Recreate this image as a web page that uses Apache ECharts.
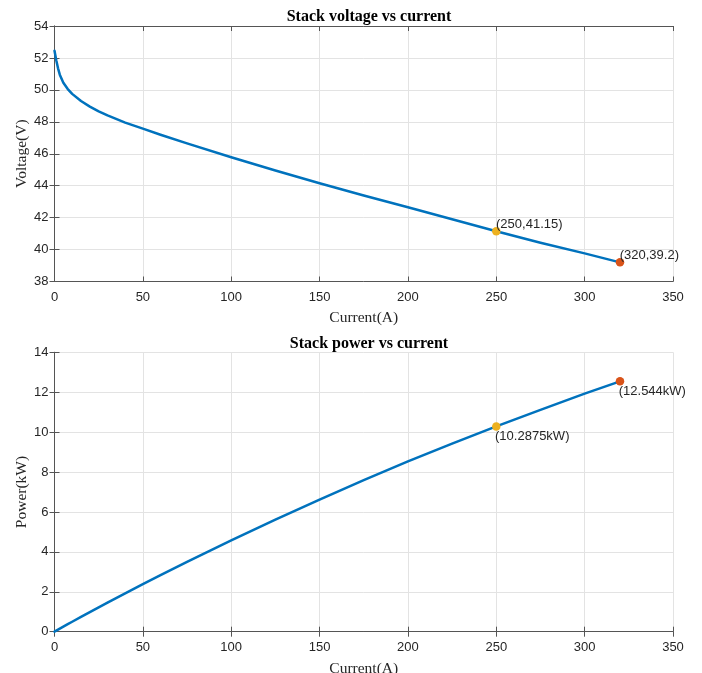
<!DOCTYPE html>
<html>
<head>
<meta charset="utf-8">
<script src="https://cdn.jsdelivr.net/npm/echarts@6/dist/echarts.min.js"></script>
<style>
  html, body { margin: 0; padding: 0; background: #fff; overflow: hidden; }
  #chart { width: 702px; height: 673px; }
</style>
</head>
<body>
<div id="chart"></div>
<script>
// ---- data ----
const current = [0, 0.5, 1, 2, 3, 5, 7.5, 10, 15, 20, 25, 30, 40, 50, 60, 75, 100, 125, 150, 175, 200, 225, 250, 275, 300, 320];
const voltage = [52.45, 52.15, 51.85, 51.35, 50.95, 50.45, 50.05, 49.75, 49.3, 48.95, 48.65, 48.4, 47.95, 47.57, 47.19, 46.65, 45.78, 44.95, 44.15, 43.39, 42.65, 41.9, 41.15, 40.43, 39.76, 39.2];
const power = [0, 0.0261, 0.0519, 0.1027, 0.1529, 0.2523, 0.3754, 0.4975, 0.7395, 0.979, 1.2163, 1.452, 1.918, 2.3785, 2.8314, 3.4988, 4.578, 5.6188, 6.6225, 7.5933, 8.53, 9.4275, 10.2875, 11.1183, 11.928, 12.544];
const markerCurrent = [250, 320];
const markerVoltage = [41.15, 39.2];
const markerPower = [10.2875, 12.544];
const xTicks = [0, 50, 100, 150, 200, 250, 300, 350];
const voltageTicks = [38, 40, 42, 44, 46, 48, 50, 52, 54];
const powerTicks = [0, 2, 4, 6, 8, 10, 12, 14];

const titles = ['Stack voltage vs current', 'Stack power vs current'];
const xName = 'Current(A)';
const yNames = ['Voltage(V)', 'Power(kW)'];

// ---- styling ----
const AXIS_COLOR = '#555555';
const GRID_COLOR = '#e3e3e3';
const TEXT_COLOR = '#262626';
const LINE_COLOR = '#0072BD';
const MARK_COLORS = ['#EDB120', '#D95319'];
const SANS = 'Liberation Sans, Arial, Helvetica, sans-serif';
const SERIF = 'Liberation Serif, Times New Roman, serif';

const grids = [
  { left: 54.5, top: 26, width: 618.5, height: 255.5, outerBoundsMode: 'none', containLabel: false },
  { left: 54.5, top: 352.3, width: 618.5, height: 279.4, outerBoundsMode: 'none', containLabel: false }
];

function xAxisPair(gi, nameGap) {
  const base = {
    type: 'value', gridIndex: gi,
    min: xTicks[0], max: xTicks[xTicks.length - 1], interval: xTicks[1] - xTicks[0],
    axisLine: { show: true, lineStyle: { color: AXIS_COLOR, width: 1 } },
    axisTick: { show: true, inside: true, length: 5, lineStyle: { color: AXIS_COLOR } }
  };
  return [
    Object.assign({}, base, {
      position: 'bottom',
      name: xName,
      nameLocation: 'middle', nameGap: nameGap, nameMoveOverlap: false,
      nameTextStyle: { fontFamily: SERIF, fontSize: 15.5, color: TEXT_COLOR },
      axisLabel: { show: true, margin: 9, fontFamily: SANS, fontSize: 13, color: TEXT_COLOR },
      splitLine: { show: true, lineStyle: { color: GRID_COLOR, width: 1 } }
    }),
    Object.assign({}, base, {
      position: 'top',
      axisLabel: { show: false },
      splitLine: { show: false }
    })
  ];
}

function yAxisPair(gi, ticks, name) {
  const base = {
    type: 'value', gridIndex: gi,
    min: ticks[0], max: ticks[ticks.length - 1], interval: ticks[1] - ticks[0],
    axisLine: { show: true, lineStyle: { color: AXIS_COLOR, width: 1 } },
    axisTick: { show: true, inside: true, length: 5, lineStyle: { color: AXIS_COLOR } }
  };
  return [
    Object.assign({}, base, {
      position: 'left',
      name: name,
      nameLocation: 'middle', nameGap: 25, nameMoveOverlap: false,
      nameTextStyle: { fontFamily: SERIF, fontSize: 15.5, color: TEXT_COLOR },
      axisLabel: { show: true, margin: 6, fontFamily: SANS, fontSize: 13, color: TEXT_COLOR },
      splitLine: { show: true, lineStyle: { color: GRID_COLOR, width: 1 } }
    }),
    Object.assign({}, base, {
      position: 'right',
      axisLabel: { show: false },
      splitLine: { show: false }
    })
  ];
}

const vLine = current.map((c, i) => [c, voltage[i]]);
const pLine = current.map((c, i) => [c, power[i]]);

const series = [
  {
    type: 'line', xAxisIndex: 0, yAxisIndex: 0, data: vLine,
    showSymbol: false, smooth: false,
    lineStyle: { color: LINE_COLOR, width: 2.5, join: 'round', cap: 'round' }, z: 3, silent: true
  },
  {
    type: 'line', xAxisIndex: 2, yAxisIndex: 2, data: pLine,
    showSymbol: false, smooth: false,
    lineStyle: { color: LINE_COLOR, width: 2.5, join: 'round', cap: 'round' }, z: 3, silent: true
  }
];

markerCurrent.forEach((c, i) => {
  series.push({
    type: 'scatter', xAxisIndex: 0, yAxisIndex: 0,
    data: [[c, markerVoltage[i]]], symbolSize: 8.5, z: 5,
    itemStyle: { color: MARK_COLORS[i], opacity: 1 },
    label: {
      show: true, position: [4, -9], align: 'left', verticalAlign: 'top',
      fontFamily: SANS, fontSize: 13, color: TEXT_COLOR,
      formatter: p => '(' + p.value[0] + ',' + p.value[1] + ')'
    }
  });
  series.push({
    type: 'scatter', xAxisIndex: 2, yAxisIndex: 2,
    data: [[c, markerPower[i]]], symbolSize: 8.5, z: 5,
    itemStyle: { color: MARK_COLORS[i], opacity: 1 },
    label: {
      show: true, position: [3, 8], align: 'left', verticalAlign: 'top',
      fontFamily: SANS, fontSize: 13, color: TEXT_COLOR,
      formatter: p => '(' + p.value[1] + 'kW)'
    }
  });
});

const chart = echarts.init(document.getElementById('chart'), null, { renderer: 'canvas' });
chart.setOption({
  animation: false,
  backgroundColor: '#ffffff',
  title: [
    { text: titles[0], left: 364, top: 4, textAlign: 'center',
      textStyle: { fontFamily: SERIF, fontWeight: 'bold', fontSize: 16, color: '#000' } },
    { text: titles[1], left: 364, top: 331, textAlign: 'center',
      textStyle: { fontFamily: SERIF, fontWeight: 'bold', fontSize: 16, color: '#000' } }
  ],
  grid: grids,
  xAxis: [...xAxisPair(0, 28), ...xAxisPair(1, 29)],
  yAxis: [...yAxisPair(0, voltageTicks, yNames[0]), ...yAxisPair(1, powerTicks, yNames[1])],
  series: series
});
</script>
</body>
</html>
